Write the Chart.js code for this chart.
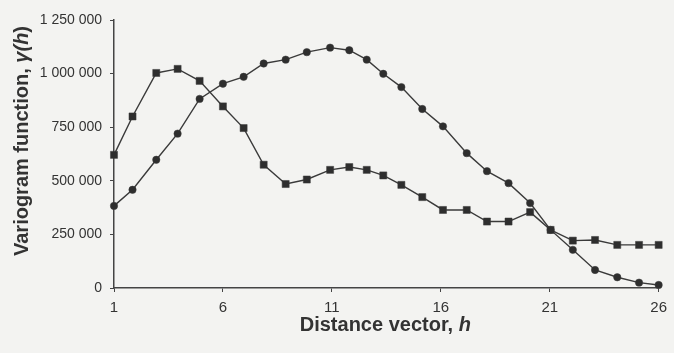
<!DOCTYPE html>
<html>
<head>
<meta charset="utf-8">
<script src="https://cdn.jsdelivr.net/npm/chart.js@4/dist/chart.umd.min.js"></script>
<style>
  html, body { margin: 0; padding: 0; background: #f3f3f1; }
  #wrap { width: 674px; height: 353px; }
</style>
</head>
<body>
<div id="wrap"><canvas id="chart" width="674" height="353"></canvas></div>
<script>
// Lag positions (27 points between tick 1 and tick 26)
const lagH = [1.0, 1.85, 2.94, 3.92, 4.93, 6.0, 6.95, 7.87, 8.88, 9.85, 10.92,
    11.8, 12.6, 13.36, 14.19, 15.15, 16.1, 17.19, 18.12, 19.11, 20.1,
    21.04, 22.06, 23.08, 24.1, 25.1, 26.0];

// Series with square markers (early peak)
const squareSeries = [621000, 800000, 1003000, 1022000, 966000, 847000, 746000,
    575000, 485000, 506000, 551000, 564000, 551000, 525000, 481000, 424000,
    364000, 364000, 310000, 310000, 354000, 271000, 221000, 224000, 201000,
    201000, 201000];

// Series with circle markers (late peak)
const circleSeries = [383000, 458000, 598000, 720000, 882000, 953000, 985000,
    1047000, 1065000, 1100000, 1121000, 1109000, 1065000, 999000, 937000,
    835000, 754000, 629000, 545000, 489000, 396000, 271000, 178000, 84000,
    50000, 25000, 14000];

const xTickValues = [1, 6, 11, 16, 21, 26];
const yTickValues = [0, 250000, 500000, 750000, 1000000, 1250000];

// Axis titles, split so the symbols can be set in italic
const xTitleParts = [['Distance vector, ', false], ['h', true]];
const yTitleParts = [['Variogram function, ', false], ['γ(', true], ['h', true], [')', false]];

const toPoints = (vals) => vals.map((v, i) => ({ x: lagH[i], y: v }));
const spaced = (v) => String(v).replace(/\B(?=(\d{3})+(?!\d))/g, ' ');

const ink = '#3a3a3a';
const FONT = '"Liberation Sans", Arial, sans-serif';
Chart.defaults.font.family = FONT;
Chart.defaults.color = '#333';

function drawParts(ctx, parts, size) {
    const fontOf = (it) => `${it ? 'italic ' : ''}bold ${size}px ${FONT}`;
    let total = 0;
    parts.forEach(([t, it]) => { ctx.font = fontOf(it); total += ctx.measureText(t).width; });
    let x = -total / 2;
    parts.forEach(([t, it]) => {
        ctx.font = fontOf(it);
        ctx.fillText(t, x, 0);
        x += ctx.measureText(t).width;
    });
}

const axisTitles = {
    id: 'axisTitles',
    afterDraw(chart) {
        const { ctx, chartArea } = chart;
        ctx.save();
        ctx.fillStyle = '#333';
        ctx.textBaseline = 'middle';
        ctx.textAlign = 'left';
        // x title
        ctx.save();
        ctx.translate((chartArea.left + chartArea.right) / 2 - 1, chartArea.bottom + 37);
        drawParts(ctx, xTitleParts, 20);
        ctx.restore();
        // y title
        ctx.save();
        ctx.translate(chartArea.left - 92, (chartArea.top + chartArea.bottom) / 2 - 13);
        ctx.rotate(-Math.PI / 2);
        drawParts(ctx, yTitleParts, 20);
        ctx.restore();
        ctx.restore();
    }
};

new Chart(document.getElementById('chart').getContext('2d'), {
    type: 'line',
    data: {
        datasets: [{
            label: 'Squares',
            data: toPoints(squareSeries),
            borderColor: ink,
            backgroundColor: '#2e2e2e',
            borderWidth: 1.4,
            pointStyle: 'rect',
            pointRadius: 5,
            pointBorderWidth: 0.5,
            tension: 0,
            clip: false
        }, {
            label: 'Circles',
            data: toPoints(circleSeries),
            borderColor: ink,
            backgroundColor: '#2e2e2e',
            borderWidth: 1.4,
            pointStyle: 'circle',
            pointRadius: 3.7,
            pointBorderWidth: 0.5,
            tension: 0,
            clip: false
        }]
    },
    plugins: [axisTitles],
    options: {
        responsive: false,
        animation: false,
        layout: { padding: { top: 20, right: 14, left: 4, bottom: 4 } },
        plugins: {
            legend: { display: false },
            tooltip: { enabled: false }
        },
        scales: {
            x: {
                type: 'linear',
                min: 1,
                max: 26,
                afterBuildTicks: (scale) => {
                    scale.ticks = xTickValues.map(v => ({ value: v }));
                },
                afterFit: (scale) => { scale.height = 61; },
                border: { color: '#444', width: 1.5 },
                grid: { drawOnChartArea: false, drawTicks: true, tickLength: 4, color: '#444' },
                ticks: { font: { size: 15 }, padding: 7, maxRotation: 0 }
            },
            y: {
                min: 0,
                max: 1250000,
                afterBuildTicks: (scale) => {
                    scale.ticks = yTickValues.map(v => ({ value: v }));
                },
                afterFit: (scale) => { scale.width = 110; },
                border: { color: '#444', width: 1.5 },
                grid: { drawOnChartArea: false, drawTicks: true, tickLength: 4, color: '#444' },
                ticks: { font: { size: 14 }, padding: 8, callback: (v) => spaced(v) }
            }
        }
    }
});
</script>
</body>
</html>
